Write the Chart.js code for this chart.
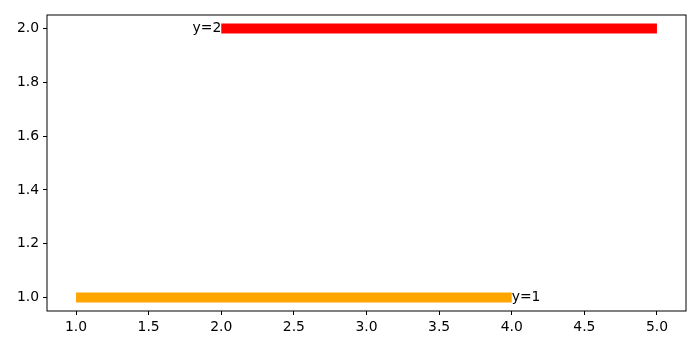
<!DOCTYPE html>
<html>
<head>
<meta charset="utf-8">
<script src="https://cdn.jsdelivr.net/npm/chart.js@4"></script>
<style>
  html, body { margin: 0; padding: 0; background: #fff; }
  #wrap { width: 700px; height: 350px; }
</style>
</head>
<body>
<div id="wrap"><canvas id="myChart"></canvas></div>
<script>
// data
var lowX = [1, 4];
var lowY = [1, 1];
var highX = [2, 5];
var highY = [2, 2];
var xTicks = [1.0, 1.5, 2.0, 2.5, 3.0, 3.5, 4.0, 4.5, 5.0];
var yTicks = [1.0, 1.2, 1.4, 1.6, 1.8, 2.0];
var lowLabel = 'y=1';
var highLabel = 'y=2';

function pts(xs, ys) {
    return xs.map(function (x, i) { return { x: x, y: ys[i] }; });
}

var font = { family: 'DejaVu Sans', size: 13.9 };

// frame round the plot area plus the two text notes
var extras = {
    id: 'extras',
    afterDatasetsDraw: function (chart) {
        var c = chart.ctx, a = chart.chartArea;
        var xs = chart.scales.x, ys = chart.scales.y;
        c.save();
        c.strokeStyle = '#000';
        c.lineWidth = 1;
        c.strokeRect(a.left, a.top, a.right - a.left, a.bottom - a.top);
        c.fillStyle = '#000';
        c.font = font.size + 'px ' + font.family;
        c.textBaseline = 'middle';
        c.textAlign = 'right';
        c.fillText(highLabel, xs.getPixelForValue(highX[0]), ys.getPixelForValue(highY[0]));
        c.textAlign = 'left';
        c.fillText(lowLabel, xs.getPixelForValue(lowX[1]), ys.getPixelForValue(lowY[1]));
        c.restore();
    }
};

var ctx = document.getElementById('myChart').getContext('2d');
var myChart = new Chart(ctx, {
    type: 'scatter',
    data: {
        datasets: [{
            data: pts(lowX, lowY),
            showLine: true,
            borderColor: 'orange',
            borderWidth: 10,
            borderCapStyle: 'butt',
            pointRadius: 0
        }, {
            data: pts(highX, highY),
            showLine: true,
            borderColor: 'red',
            borderWidth: 10,
            borderCapStyle: 'butt',
            pointRadius: 0
        }]
    },
    options: {
        responsive: true,
        maintainAspectRatio: false,
        animation: false,
        layout: { padding: { top: 15, right: 14, left: 0, bottom: 0 } },
        plugins: { legend: { display: false }, tooltip: { enabled: false } },
        scales: {
            x: {
                type: 'linear',
                min: 0.8,
                max: 5.2,
                afterBuildTicks: function (s) { s.ticks = xTicks.map(function (v) { return { value: v }; }); },
                afterFit: function (s) { s.height = 39; },
                grid: { drawOnChartArea: false, drawTicks: true, tickLength: 4, color: '#000' },
                border: { display: false },
                ticks: {
                    color: '#000', font: font, padding: 4, maxRotation: 0,
                    callback: function (v) { return v.toFixed(1); }
                }
            },
            y: {
                type: 'linear',
                min: 0.95,
                max: 2.05,
                afterBuildTicks: function (s) { s.ticks = yTicks.map(function (v) { return { value: v }; }); },
                afterFit: function (s) { s.width = 47; },
                grid: { drawOnChartArea: false, drawTicks: true, tickLength: 4, color: '#000' },
                border: { display: false },
                ticks: {
                    color: '#000', font: font, padding: 4,
                    callback: function (v) { return v.toFixed(1); }
                }
            }
        }
    },
    plugins: [extras]
});
</script>
</body>
</html>
